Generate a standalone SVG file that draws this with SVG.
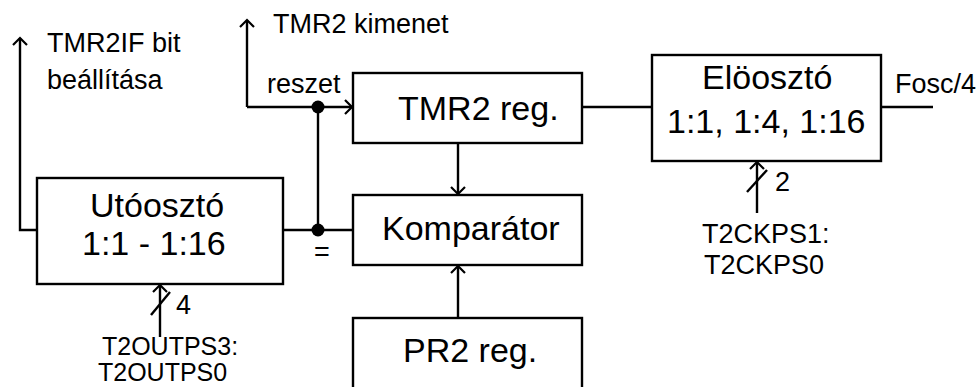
<svg xmlns="http://www.w3.org/2000/svg" width="977" height="387" viewBox="0 0 977 387">
<defs>
<marker id="arr" markerUnits="userSpaceOnUse" markerWidth="20" markerHeight="20" viewBox="-10 -10 20 20" refX="0" refY="0" orient="auto">
<path d="M-7,-7 L0,0 L-7,7" fill="none" stroke="#000" stroke-width="2.2"/>
</marker>
</defs>
<style>
.box{fill:#fff;stroke:#000;stroke-width:2.4}
.ln{fill:none;stroke:#000;stroke-width:2.4}
.big{font-family:"Liberation Sans",Arial,sans-serif;font-size:34px;fill:#000}
.sm{font-family:"Liberation Sans",Arial,sans-serif;font-size:27px;fill:#000}
.xs{font-family:"Liberation Sans",Arial,sans-serif;font-size:25px;fill:#000}
</style>
<rect width="977" height="387" fill="#fff"/>
<g id="connectors">
<path class="ln" d="M37,230 H20 V38" marker-end="url(#arr)"/>
<path class="ln" d="M247,107 V20" marker-end="url(#arr)"/>
<path class="ln" d="M247,107 H352" marker-end="url(#arr)"/>
<path class="ln" d="M283,230 H353"/>
<path class="ln" d="M318,107 V230"/>
<circle cx="318" cy="107" r="6.5" fill="#000"/>
<circle cx="318" cy="230" r="6.5" fill="#000"/>
<path class="ln" d="M458,143 V194" marker-end="url(#arr)"/>
<path class="ln" d="M458,318 V266" marker-end="url(#arr)"/>
<path class="ln" d="M582,107 H652"/>
<path class="ln" d="M881,107 H933"/>
<path class="ln" d="M757,213 V162" marker-end="url(#arr)"/>
<path class="ln" d="M747,192 L767,170"/>
<path class="ln" d="M160,337 V285" marker-end="url(#arr)"/>
<path class="ln" d="M151,315 L170,292"/>
</g>
<g id="utooszto">
<rect class="box" x="37" y="178" width="246" height="106"/>
<text class="big" x="90" y="217">Utóosztó</text>
<text class="big" x="82" y="255">1:1 - 1:16</text>
</g>
<g id="tmr2reg">
<rect class="box" x="353" y="73" width="229" height="70"/>
<text class="big" x="398" y="120">TMR2 reg.</text>
</g>
<g id="komparator">
<rect class="box" x="353" y="195" width="229" height="70"/>
<text class="big" x="382" y="240">Komparátor</text>
</g>
<g id="pr2reg">
<rect class="box" x="353" y="318" width="229" height="80"/>
<text class="big" x="403" y="362">PR2 reg.</text>
</g>
<g id="eloszto">
<rect class="box" x="652" y="55" width="229" height="106"/>
<text class="big" x="702" y="89">Elöosztó</text>
<text class="big" x="667" y="133">1:1, 1:4, 1:16</text>
</g>
<g id="labels">
<text class="sm" x="47" y="52">TMR2IF bit</text>
<text class="sm" x="47" y="89">beállítása</text>
<text class="sm" x="273" y="33">TMR2 kimenet</text>
<text class="sm" x="267" y="93">reszet</text>
<text class="sm" x="895" y="93">Fosc/4</text>
<text class="sm" x="314" y="261">=</text>
<text class="sm" x="176" y="314">4</text>
<text class="sm" x="775" y="191">2</text>
<text class="xs" x="102" y="355">T2OUTPS3:</text>
<text class="xs" x="98" y="381">T2OUTPS0</text>
<text class="sm" x="702" y="243">T2CKPS1:</text>
<text class="sm" x="704" y="274">T2CKPS0</text>
</g>
</svg>
